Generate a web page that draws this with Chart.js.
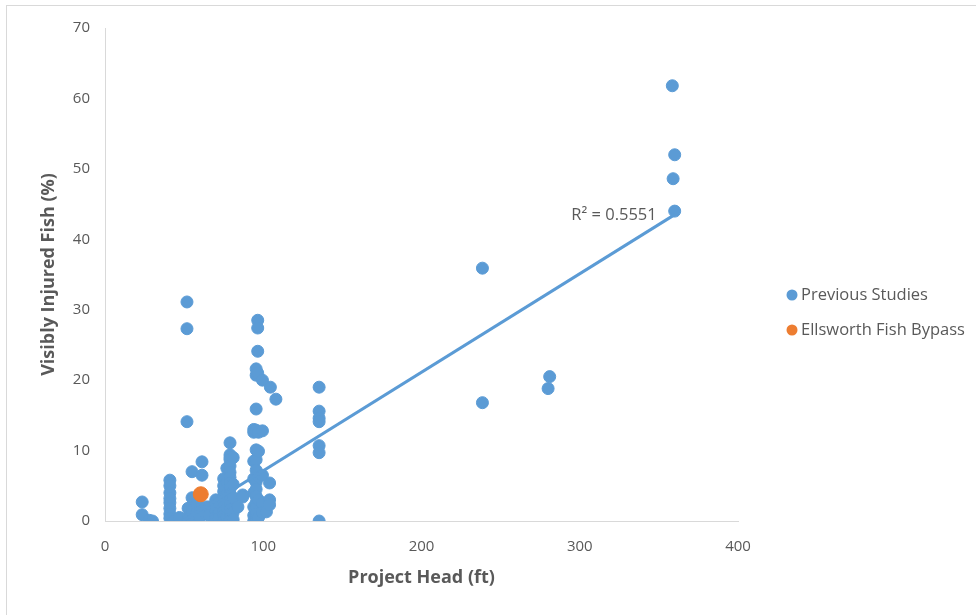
<!DOCTYPE html>
<html>
<head>
<meta charset="utf-8">
<script src="https://cdn.jsdelivr.net/npm/chart.js@4.4.0/dist/chart.umd.min.js"></script>
<style>
    html, body { margin: 0; padding: 0; background: #fff; }
    #frame {
        position: absolute; left: 6px; top: 5px; width: 976px; height: 620px;
        border-left: 1px solid #d9d9d9; border-top: 1px solid #d9d9d9;
    }
    #wrap { position: absolute; left: 0; top: 0; width: 976px; height: 615px; }
</style>
</head>
<body>
<div id="frame"></div>
<div id="wrap"><canvas id="injuryChart" width="976" height="615"></canvas></div>
<script>
// Previous studies: project head (ft) and visibly injured fish (%)
const prevHead = [
    23.5, 23.5, 28, 30,
    41, 41, 41, 41, 41, 41, 41, 41, 43, 44, 47, 47,
    51.8, 51.8, 51.8,
    52.5, 52.5, 52.5, 55, 55, 55, 55, 58, 58, 61.3, 61.3, 60, 60,
    64, 64, 66, 66, 70, 70, 70, 70, 70, 72, 72, 72,
    75, 75, 75, 75, 75, 75, 75, 75, 75, 75,
    77, 77, 77, 77, 77,
    79, 79, 79, 79, 79, 79, 79, 79, 79, 79, 79, 79, 79, 79, 79, 79,
    81, 81, 81, 81, 81, 84, 87, 87,
    94, 94, 94, 94, 94, 94, 94, 94,
    95.5, 95.5, 95.5, 95.5, 95.5, 95.5, 95.5, 95.5, 95.5, 95.5, 95.5, 95.5, 95.5, 95.5, 95.5,
    96.5, 96.5, 96.5, 96.5,
    97, 97, 97, 97, 97,
    99.5, 99.5, 99.5, 99.5, 99.5,
    102, 104, 104, 104, 104.5, 108,
    135.3, 135.3, 135.3, 135.3, 135.3, 135.3, 135.3,
    238.5, 238.5, 280, 281,
    358.5, 360, 359, 360
];
const prevInjured = [
    2.7, 0.9, 0.1, 0,
    5.8, 5.0, 4.0, 3.2, 2.6, 1.8, 1.0, 0.4, 0, 0, 0.2, 0.5,
    31.1, 27.3, 14.1,
    1.8, 0.6, 0.2, 7.0, 3.3, 1.5, 0.1, 2.5, 1.2, 8.4, 6.5, 1.3, 0.5,
    2.0, 1.0, 2.0, 0.8, 1.3, 0.6, 0.2, 3.0, 2.2, 1.0, 0.4, 2.6,
    6.0, 5.0, 4.2, 3.5, 2.8, 2.0, 1.4, 0.8, 0.3, 0,
    7.5, 5.5, 3.8, 1.8, 0.5,
    11.1, 9.4, 9.0, 8.7, 7.8, 6.9, 6.2, 5.4, 4.6, 3.8, 3.0, 2.4, 1.6, 1.0, 0.4, 0,
    9.0, 5.2, 3.3, 1.2, 0.2, 2.0, 3.7, 3.4,
    13.0, 12.6, 8.5, 6.0, 4.0, 2.0, 0.8, 0,
    21.6, 20.7, 15.9, 12.9, 10.1, 8.7, 7.2, 5.5, 4.5, 3.5, 2.6, 1.8, 1.0, 0.3, 0,
    28.5, 27.4, 24.1, 21.0,
    12.6, 9.9, 6.3, 3.0, 0.5,
    20.0, 12.8, 6.5, 2.5, 1.2,
    1.3, 5.4, 3.0, 2.3, 19.0, 17.3,
    19.0, 15.6, 14.6, 14.1, 10.7, 9.7, 0,
    35.9, 16.8, 18.8, 20.5,
    61.8, 52.0, 48.6, 44.0
];

// Ellsworth Fish Bypass
const ellsworthHead = [60.5];
const ellsworthInjured = [3.8];

// linear trendline ends, as drawn
const trendHead = [49, 360];
const trendInjured = [0, 43.5];
const trendLabel = 'R² = 0.5551';

const xTicks = [0, 100, 200, 300, 400];
const yTicks = [0, 10, 20, 30, 40, 50, 60, 70];

const blue = '#5B9BD5';
const orange = '#ED7D31';
const grey = '#595959';
const fontFamily = "'Open Sans', 'Liberation Sans', sans-serif";

function toPoints(xs, ys) {
    return xs.map((x, i) => ({ x: x, y: ys[i] }));
}

// R² text next to the top end of the trendline
const trendLabelPlugin = {
    id: 'trendLabel',
    afterDatasetsDraw(chart) {
        const c = chart.ctx;
        const x = chart.scales.x.getPixelForValue(trendHead[1]);
        const y = chart.scales.y.getPixelForValue(trendInjured[1]);
        c.save();
        c.font = '16.5px ' + fontFamily;
        c.fillStyle = grey;
        c.textAlign = 'right';
        c.textBaseline = 'middle';
        c.fillText(trendLabel, x - 18, y + 1);
        c.restore();
    }
};

// legend to the right of the plot
const sideLegendPlugin = {
    id: 'sideLegend',
    afterDraw(chart) {
        const c = chart.ctx;
        const items = [chart.data.datasets[2], chart.data.datasets[1]];
        const left = chart.chartArea.right + 54;
        c.save();
        c.font = '16.5px ' + fontFamily;
        c.textBaseline = 'middle';
        items.forEach((ds, i) => {
            const y = 295 + i * 35;
            c.fillStyle = ds.backgroundColor;
            c.beginPath();
            c.arc(left, y, 5.5, 0, Math.PI * 2);
            c.fill();
            c.fillStyle = grey;
            c.fillText(ds.label, left + 9, y);
        });
        c.restore();
    }
};

function createInjuryChart() {
    const ctx = document.getElementById('injuryChart').getContext('2d');
    const chart = new Chart(ctx, {
        type: 'scatter',
        data: {
            datasets: [{
                type: 'line',
                label: 'Linear (Previous Studies)',
                data: toPoints(trendHead, trendInjured),
                borderColor: blue,
                backgroundColor: blue,
                borderWidth: 3,
                pointRadius: 0,
                fill: false
            }, {
                label: 'Ellsworth Fish Bypass',
                data: toPoints(ellsworthHead, ellsworthInjured),
                backgroundColor: orange,
                borderColor: orange,
                pointRadius: 7.5,
                pointHoverRadius: 7.5
            }, {
                label: 'Previous Studies',
                data: toPoints(prevHead, prevInjured),
                backgroundColor: blue,
                borderColor: blue,
                pointRadius: 6,
                pointHoverRadius: 6
            }]
        },
        options: {
            responsive: false,
            animation: false,
            layout: {
                padding: { left: 0, top: 28, right: 238, bottom: 0 }
            },
            plugins: {
                legend: { display: false },
                tooltip: { enabled: false }
            },
            scales: {
                x: {
                    type: 'linear',
                    min: 0,
                    max: 400,
                    afterBuildTicks: (axis) => { axis.ticks = xTicks.map(v => ({ value: v })); },
                    afterFit: (axis) => { axis.height = 94; },
                    grid: { display: false, drawTicks: false },
                    border: { display: true, color: '#d9d9d9', width: 1 },
                    ticks: {
                        color: grey,
                        padding: 17,
                        font: { family: fontFamily, size: 15 }
                    },
                    title: {
                        display: true,
                        text: 'Project Head (ft)',
                        color: grey,
                        padding: { top: 12, bottom: 26 },
                        font: { family: fontFamily, size: 18, weight: 'bold' }
                    }
                },
                y: {
                    min: 0,
                    max: 70,
                    afterBuildTicks: (axis) => { axis.ticks = yTicks.map(v => ({ value: v })); },
                    afterFit: (axis) => { axis.width = 105; },
                    grid: { display: false, drawTicks: false },
                    border: { display: true, color: '#d9d9d9', width: 1 },
                    ticks: {
                        color: grey,
                        padding: 15,
                        font: { family: fontFamily, size: 15 }
                    },
                    title: {
                        display: true,
                        text: 'Visibly Injured Fish (%)',
                        color: grey,
                        padding: { top: 38, bottom: 10 },
                        font: { family: fontFamily, size: 18, weight: 'bold' }
                    }
                }
            }
        },
        plugins: [trendLabelPlugin, sideLegendPlugin]
    });
    return chart;
}

createInjuryChart();
</script>
</body>
</html>
